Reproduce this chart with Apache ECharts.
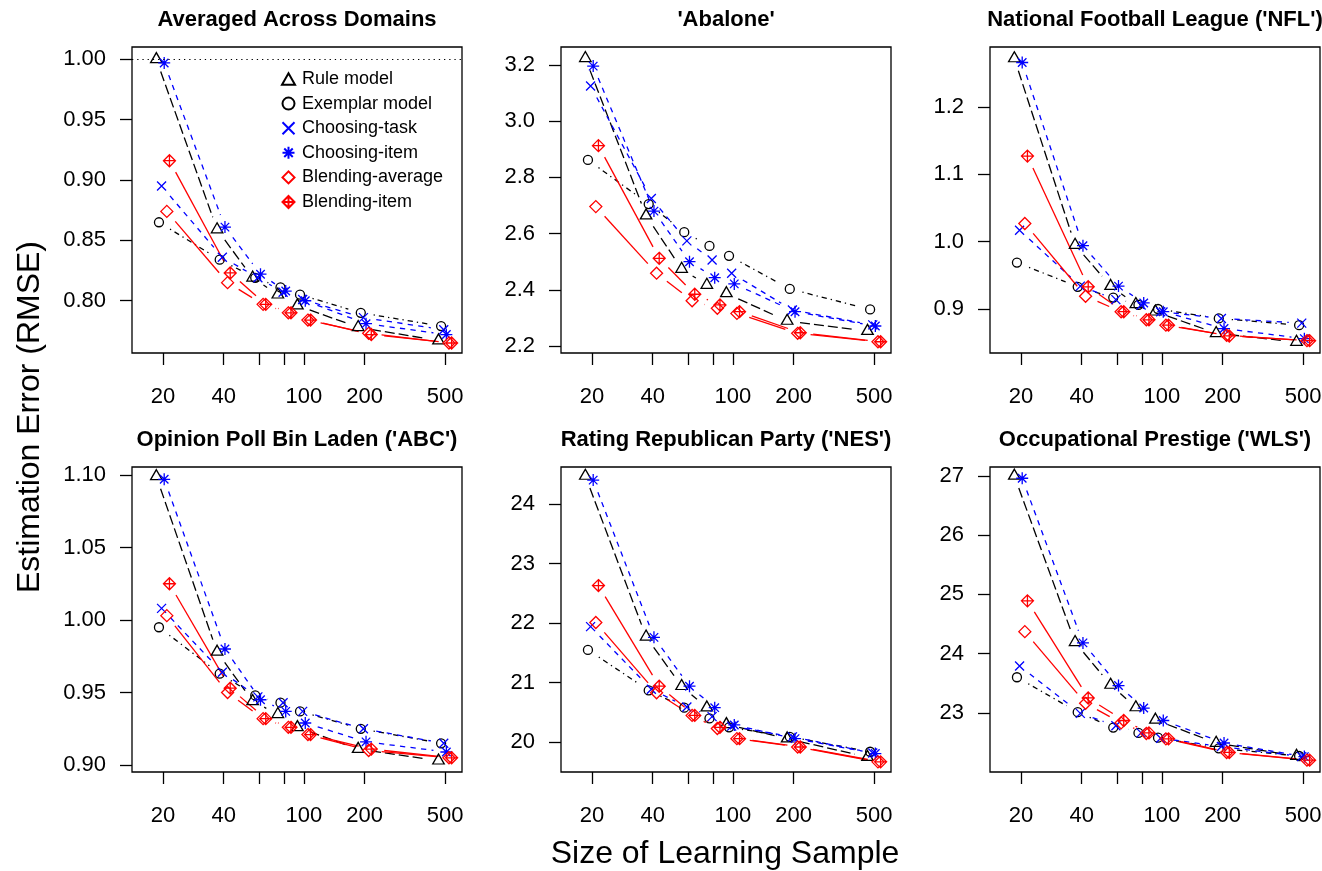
<!DOCTYPE html>
<html><head><meta charset="utf-8">
<script src="https://cdn.jsdelivr.net/npm/echarts@6/dist/echarts.min.js"></script>
<style>html,body{margin:0;padding:0;background:#fff}#c{width:1322px;height:871px}</style>
</head><body><div id="c"></div>
<script>
// ---------------- data ----------------
const sampleSizes = [20, 40, 60, 80, 100, 200, 500];
const xTickValues = [20, 40, 60, 80, 100, 200, 500];
const xLabelValues = [20, 40, 100, 200, 500];
const seriesNames = ['Rule model', 'Exemplar model', 'Choosing-task', 'Choosing-item', 'Blending-average', 'Blending-item'];
const panelTitles = ['Averaged Across Domains', "'Abalone'", "National Football League ('NFL')",
  "Opinion Poll Bin Laden ('ABC')", "Rating Republican Party ('NES')", "Occupational Prestige ('WLS')"];

// Averaged Across Domains
const avgRule         = [1.000, 0.859, 0.819, 0.805, 0.796, 0.778, 0.767];
const avgExemplar     = [0.865, 0.834, 0.819, 0.811, 0.805, 0.790, 0.779];
const avgChoosingTask = [0.895, 0.836, 0.819, 0.807, 0.801, 0.786, 0.776];
const avgChoosingItem = [0.997, 0.861, 0.822, 0.808, 0.800, 0.781, 0.772];
const avgBlendingAvg  = [0.874, 0.815, 0.797, 0.790, 0.784, 0.773, 0.765];
const avgBlendingItem = [0.916, 0.823, 0.797, 0.790, 0.784, 0.772, 0.765];
const avgTicks = [0.80, 0.85, 0.90, 0.95, 1.00];

// Abalone
const abaRule         = [3.224, 2.664, 2.474, 2.417, 2.387, 2.289, 2.253];
const abaExemplar     = [2.862, 2.705, 2.605, 2.556, 2.521, 2.403, 2.330];
const abaChoosingTask = [3.125, 2.725, 2.574, 2.506, 2.459, 2.328, 2.275];
const abaChoosingItem = [3.196, 2.680, 2.500, 2.443, 2.421, 2.322, 2.271];
const abaBlendingAvg  = [2.696, 2.459, 2.361, 2.334, 2.316, 2.245, 2.215];
const abaBlendingItem = [2.913, 2.512, 2.384, 2.346, 2.322, 2.247, 2.215];
const abaTicks = [2.2, 2.4, 2.6, 2.8, 3.0, 3.2];

// NFL
const nflRule         = [1.272, 0.995, 0.934, 0.907, 0.896, 0.864, 0.851];
const nflExemplar     = [0.969, 0.933, 0.917, 0.906, 0.900, 0.886, 0.876];
const nflChoosingTask = [1.017, 0.934, 0.914, 0.906, 0.896, 0.886, 0.879];
const nflChoosingItem = [1.266, 0.994, 0.934, 0.909, 0.896, 0.871, 0.856];
const nflBlendingAvg  = [1.027, 0.919, 0.896, 0.884, 0.876, 0.861, 0.853];
const nflBlendingItem = [1.127, 0.933, 0.896, 0.884, 0.876, 0.860, 0.853];
const nflTicks = [0.9, 1.0, 1.1, 1.2];

// ABC
const abcRule         = [1.099, 0.978, 0.944, 0.935, 0.926, 0.911, 0.903];
const abcExemplar     = [0.995, 0.963, 0.948, 0.943, 0.937, 0.925, 0.915];
const abcChoosingTask = [1.008, 0.964, 0.947, 0.943, 0.937, 0.925, 0.915];
const abcChoosingItem = [1.097, 0.980, 0.945, 0.937, 0.929, 0.916, 0.909];
const abcBlendingAvg  = [1.003, 0.950, 0.932, 0.926, 0.921, 0.910, 0.905];
const abcBlendingItem = [1.025, 0.953, 0.932, 0.926, 0.921, 0.911, 0.905];
const abcTicks = [0.90, 0.95, 1.00, 1.05, 1.10];

// NES
const nesRule         = [24.47, 21.77, 20.94, 20.58, 20.30, 20.06, 19.75];
const nesExemplar     = [21.55, 20.87, 20.58, 20.40, 20.25, 20.09, 19.84];
const nesChoosingTask = [21.94, 20.89, 20.59, 20.43, 20.27, 20.09, 19.82];
const nesChoosingItem = [24.40, 21.76, 20.94, 20.58, 20.29, 20.06, 19.81];
const nesBlendingAvg  = [22.01, 20.83, 20.45, 20.23, 20.06, 19.92, 19.67];
const nesBlendingItem = [22.63, 20.94, 20.45, 20.25, 20.06, 19.92, 19.67];
const nesTicks = [20, 21, 22, 23, 24];

// WLS
const wlsRule         = [27.00, 24.19, 23.47, 23.09, 22.88, 22.49, 22.27];
const wlsExemplar     = [23.60, 23.01, 22.75, 22.66, 22.58, 22.40, 22.27];
const wlsChoosingTask = [23.79, 22.99, 22.78, 22.66, 22.57, 22.43, 22.26];
const wlsChoosingItem = [26.96, 24.18, 23.46, 23.08, 22.87, 22.49, 22.26];
const wlsBlendingAvg  = [24.37, 23.16, 22.83, 22.65, 22.56, 22.33, 22.20];
const wlsBlendingItem = [24.89, 23.25, 22.87, 22.66, 22.56, 22.33, 22.20];
const wlsTicks = [23, 24, 25, 26, 27];

// ---------------- layout / styles ----------------
const FONT = '"Liberation Sans", Arial, Helvetica, sans-serif';
const panels = [
  {data: [avgRule, avgExemplar, avgChoosingTask, avgChoosingItem, avgBlendingAvg, avgBlendingItem], ticks: avgTicks, dec: 2, ymin: 0.7567, ymax: 1.0102, left: 132, top: 47, height: 306, refLine: 1},
  {data: [abaRule, abaExemplar, abaChoosingTask, abaChoosingItem, abaBlendingAvg, abaBlendingItem], ticks: abaTicks, dec: 1, ymin: 2.175, ymax: 3.264, left: 561, top: 47, height: 306},
  {data: [nflRule, nflExemplar, nflChoosingTask, nflChoosingItem, nflBlendingAvg, nflBlendingItem], ticks: nflTicks, dec: 1, ymin: 0.8347, ymax: 1.289, left: 990, top: 47, height: 306},
  {data: [abcRule, abcExemplar, abcChoosingTask, abcChoosingItem, abcBlendingAvg, abcBlendingItem], ticks: abcTicks, dec: 2, ymin: 0.8952, ymax: 1.1055, left: 132, top: 467, height: 305},
  {data: [nesRule, nesExemplar, nesChoosingTask, nesChoosingItem, nesBlendingAvg, nesBlendingItem], ticks: nesTicks, dec: 0, ymin: 19.50, ymax: 24.62, left: 561, top: 467, height: 305},
  {data: [wlsRule, wlsExemplar, wlsChoosingTask, wlsChoosingItem, wlsBlendingAvg, wlsBlendingItem], ticks: wlsTicks, dec: 0, ymin: 22.00, ymax: 27.15, left: 990, top: 467, height: 305}
];
const PANEL_W = 330;
const XMIN = 1.148, XMAX = 2.783;   // log10 range of the x axis
const DODGE = 0.013;                // log10 offset between series
const GAP = 13;                     // px gap between line ends and points (R type = "b")
const LW = 1.3;

const styles = [
  {color: '#000000', symbol: 'path://M5,0L10,8.66L0,8.66Z', size: [11.5, 10], offset: [0, -1.7], dash: [10, 4]},
  {color: '#000000', symbol: 'circle', size: 9, offset: [0, 0], dash: [1.3, 4, 5.3, 4]},
  {color: '#0000FF', symbol: 'path://M0,0L10,10M10,0L0,10', size: 9, offset: [0, 0], dash: [5.3, 5.3]},
  {color: '#0000FF', symbol: 'path://M0,0L10,10M10,0L0,10M-2.07,5L12.07,5M5,-2.07L5,12.07', size: 12, offset: [0, 0], dash: [5.3, 5.3]},
  {color: '#FF0000', symbol: 'path://M5,0L10,5L5,10L0,5Z', size: 12, offset: [0, 0], dash: null},
  {color: '#FF0000', symbol: 'path://M5,0L10,5L5,10L0,5ZM0,5L10,5M5,0L5,10', size: 12, offset: [0, 0], dash: null}
];

function dodgeX(n, si) { return Math.log10(n) + (si - 2.5) * DODGE; }
function fmt(v, dec) { return dec === 0 ? String(Math.round(v)) : v.toFixed(dec); }

const grids = [], xAxes = [], yAxes = [], series = [], graphics = [];

panels.forEach((p, pi) => {
  grids.push({left: p.left, top: p.top, width: PANEL_W, height: p.height, show: true,
    borderColor: '#000', borderWidth: 1.3, backgroundColor: 'transparent', containLabel: false, outerBoundsMode: 'none'});
  xAxes.push({type: 'value', gridIndex: pi, min: XMIN, max: XMAX,
    axisLine: {show: false, onZero: false}, splitLine: {show: false},
    axisTick: {show: true, length: 12, lineStyle: {color: '#000', width: 1.3}, customValues: xTickValues.map(v => Math.log10(v))},
    axisLabel: {show: true, margin: 33, color: '#000', fontSize: 22, fontFamily: FONT,
      customValues: xLabelValues.map(v => Math.log10(v)),
      formatter: v => String(Math.round(Math.pow(10, v)))}
  });
  yAxes.push({type: 'value', gridIndex: pi, min: p.ymin, max: p.ymax,
    axisLine: {show: false, onZero: false}, splitLine: {show: false},
    axisTick: {show: true, length: 12, lineStyle: {color: '#000', width: 1.3}, customValues: p.ticks},
    axisLabel: {show: true, margin: 26, color: '#000', fontSize: 22, fontFamily: FONT,
      customValues: p.ticks, formatter: v => fmt(v, p.dec)}
  });
  p.data.forEach((vals, si) => {
    const st = styles[si];
    const segs = [];
    for (let k = 0; k < vals.length - 1; k++) {
      segs.push([dodgeX(sampleSizes[k], si), vals[k], dodgeX(sampleSizes[k + 1], si), vals[k + 1]]);
    }
    series.push({
      type: 'custom', name: seriesNames[si] + ' (line ' + pi + ')', xAxisIndex: pi, yAxisIndex: pi,
      silent: true, encode: {x: [0, 2], y: [1, 3]}, data: segs,
      renderItem: function (params, api) {
        const a = api.coord([api.value(0), api.value(1)]);
        const b = api.coord([api.value(2), api.value(3)]);
        const dx = b[0] - a[0], dy = b[1] - a[1];
        const len = Math.hypot(dx, dy);
        if (len <= 2 * GAP) return {type: 'group', children: []};
        const ux = dx / len * GAP, uy = dy / len * GAP;
        return {type: 'line', shape: {x1: a[0] + ux, y1: a[1] + uy, x2: b[0] - ux, y2: b[1] - uy},
          style: {stroke: st.color, lineWidth: LW, lineDash: st.dash || null, fill: null}};
      }
    });
    const s = {
      type: 'scatter', name: seriesNames[si], xAxisIndex: pi, yAxisIndex: pi,
      symbol: st.symbol, symbolSize: st.size, symbolOffset: st.offset, silent: true,
      itemStyle: {color: 'rgba(0,0,0,0)', borderColor: st.color, borderWidth: LW, opacity: 1},
      data: vals.map((v, k) => [dodgeX(sampleSizes[k], si), v])
    };
    if (p.refLine !== undefined && si === 0) {
      s.markLine = {silent: true, symbol: 'none', label: {show: false},
        lineStyle: {type: [1.3, 3.9], color: '#000', width: 1.2}, data: [{yAxis: p.refLine}]};
    }
    series.push(s);
  });
  graphics.push({type: 'text', x: p.left + PANEL_W / 2, y: p.top - 27,
    style: {text: panelTitles[pi], font: 'bold 22px ' + FONT, fill: '#000', align: 'center', verticalAlign: 'middle'}});
});

graphics.push({type: 'text', x: 30, y: 417, rotation: Math.PI / 2,
  style: {text: 'Estimation Error (RMSE)', font: '32px ' + FONT, fill: '#000', align: 'center', verticalAlign: 'middle'}});
graphics.push({type: 'text', x: 725, y: 854,
  style: {text: 'Size of Learning Sample', font: '32px ' + FONT, fill: '#000', align: 'center', verticalAlign: 'middle'}});

const chart = echarts.init(document.getElementById('c'), null, {renderer: 'canvas'});
chart.setOption({
  animation: false,
  backgroundColor: '#fff',
  grid: grids, xAxis: xAxes, yAxis: yAxes, series: series,
  legend: {show: true, orient: 'vertical', left: 281, top: 70, itemWidth: 13, itemHeight: 12, itemGap: 6.6,
    padding: 0, selectedMode: false, data: seriesNames,
    textStyle: {fontSize: 18, color: '#000', fontFamily: FONT, padding: [0, 0, 0, 2]}},
  graphic: graphics
});
</script></body></html>
